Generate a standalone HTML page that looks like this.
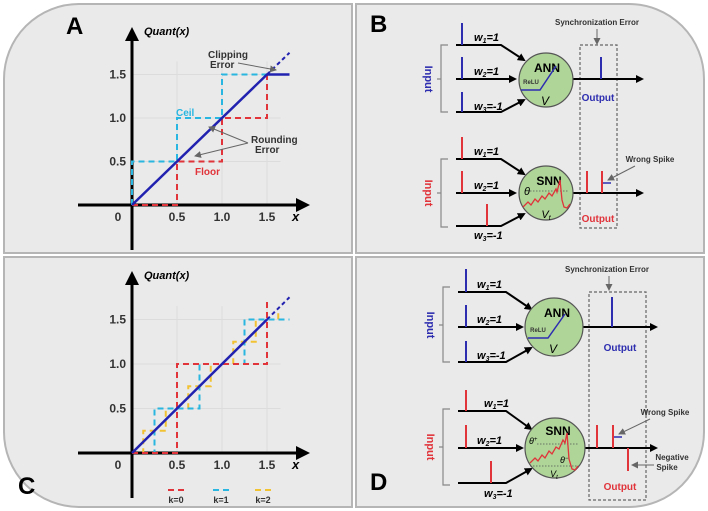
<!DOCTYPE html>
<html><head><meta charset="utf-8"><style>
html,body{margin:0;padding:0;background:#fff}
svg{display:block}
text{font-family:"Liberation Sans",sans-serif}
</style></head><body>
<svg id="fig" width="708" height="511" viewBox="0 0 708 511" xmlns="http://www.w3.org/2000/svg">
<defs>
<marker id="ah" markerWidth="8" markerHeight="8" refX="6" refY="4" orient="auto" markerUnits="userSpaceOnUse"><path d="M0,0 L8,4 L0,8 z" fill="#000"/></marker>
<marker id="ahb" markerWidth="14" markerHeight="14" refX="10" refY="7" orient="auto" markerUnits="userSpaceOnUse"><path d="M0,0 L14,7 L0,14 z" fill="#000"/></marker>
<marker id="ahg" markerWidth="7" markerHeight="7" refX="6" refY="3.5" orient="auto" markerUnits="userSpaceOnUse"><path d="M0,0 L7,3.5 L0,7 z" fill="#666"/></marker>
</defs>
<path d="M4,79 A75,75 0 0 1 79,4 L352,4 L352,253 L4,253 Z" fill="#eaeaea" stroke="#b5b5b5" stroke-width="2"/>
<path d="M356,4 L629,4 A75,75 0 0 1 704,79 L704,253 L356,253 Z" fill="#eaeaea" stroke="#b5b5b5" stroke-width="2"/>
<path d="M4,257 L352,257 L352,507 L79,507 A75,75 0 0 1 4,432 Z" fill="#eaeaea" stroke="#b5b5b5" stroke-width="2"/>
<path d="M356,257 L704,257 L704,432 A75,75 0 0 1 629,507 L356,507 Z" fill="#eaeaea" stroke="#b5b5b5" stroke-width="2"/>

<text x="66" y="34" font-size="24" font-weight="bold">A</text>
<text x="370" y="32" font-size="24" font-weight="bold">B</text>
<text x="18" y="494" font-size="24" font-weight="bold">C</text>
<text x="370" y="490" font-size="24" font-weight="bold">D</text>

<g id="chartA"></g>
<g id="chartC"></g>

<g font-weight="bold">
<text x="208" y="58" font-size="10" fill="#333">Clipping</text>
<text x="210" y="68" font-size="10" fill="#333">Error</text>
<line x1="238" y1="63" x2="276" y2="70" stroke="#666" stroke-width="1" marker-end="url(#ahg)"/>
<text x="176" y="116" font-size="10" fill="#29b6e0">Ceil</text>
<text x="195" y="175" font-size="10" fill="#e0333a">Floor</text>
<text x="251" y="143" font-size="10" fill="#333">Rounding</text>
<text x="255" y="153" font-size="10" fill="#333">Error</text>
<line x1="248" y1="143" x2="209" y2="127" stroke="#666" stroke-width="1" marker-end="url(#ahg)"/>
<line x1="248" y1="143" x2="195" y2="156" stroke="#666" stroke-width="1" marker-end="url(#ahg)"/>
</g>

<g>
<text x="597" y="25" font-size="8" font-weight="bold" text-anchor="middle" fill="#333">Synchronization Error</text>
<line x1="597" y1="29" x2="597" y2="44" stroke="#666" stroke-width="1" marker-end="url(#ahg)"/>
<rect x="580" y="45" width="37" height="183" fill="none" stroke="#666" stroke-width="1.2" stroke-dasharray="3,2"/>
<path d="M448,45 L441,45 L441,112 L448,112 M441,79 L437,79" fill="none" stroke="#888" stroke-width="1.2"/>
<text transform="translate(425,79) rotate(90)" font-size="11" font-weight="bold" fill="#2d2db0" text-anchor="middle">Input</text>
<g stroke="#000" stroke-width="2" fill="none">
<path d="M456,45 L501,45 L524,60" marker-end="url(#ah)"/>
<path d="M456,79 L515,79" marker-end="url(#ah)"/>
<path d="M456,112 L501,112 L524,100" marker-end="url(#ah)"/>
<path d="M573,79 L642,79" marker-end="url(#ah)"/>
</g>
<g stroke="#2d2db0" stroke-width="2">
<line x1="462" y1="45" x2="462" y2="23"/>
<line x1="462" y1="79" x2="462" y2="57"/>
<line x1="462" y1="112" x2="462" y2="92"/>
<line x1="601" y1="79" x2="601" y2="57"/>
</g>
<g font-size="11" font-weight="bold" font-style="italic" font-family="Liberation Serif">
<text x="474" y="41">w<tspan font-size="7" dy="2">1</tspan><tspan dy="-2">=1</tspan></text>
<text x="474" y="75">w<tspan font-size="7" dy="2">2</tspan><tspan dy="-2">=1</tspan></text>
<text x="474" y="110">w<tspan font-size="7" dy="2">3</tspan><tspan dy="-2">=-1</tspan></text>
</g>
<circle cx="546" cy="80" r="27" fill="#afd598" stroke="#555" stroke-width="1.2"/>
<text x="547" y="72" font-size="12" font-weight="bold" text-anchor="middle">ANN</text>
<text x="531" y="84" font-size="6" font-weight="bold" text-anchor="middle" fill="#333">ReLU</text>
<path d="M521,90 L540,90 L556,66" fill="none" stroke="#2d2db0" stroke-width="1.5"/>
<text x="545" y="105" font-size="12" font-style="italic" font-family="Liberation Serif" text-anchor="middle">V</text>
<text x="598" y="101" font-size="10" font-weight="bold" fill="#2d2db0" text-anchor="middle">Output</text>

<path d="M448,159 L441,159 L441,227 L448,227 M441,193 L437,193" fill="none" stroke="#888" stroke-width="1.2"/>
<text transform="translate(425,193) rotate(90)" font-size="11" font-weight="bold" fill="#e0333a" text-anchor="middle">Input</text>
<g stroke="#000" stroke-width="2" fill="none">
<path d="M456,159 L501,159 L524,174" marker-end="url(#ah)"/>
<path d="M456,193 L515,193" marker-end="url(#ah)"/>
<path d="M456,226 L501,226 L524,214" marker-end="url(#ah)"/>
<path d="M573,193 L642,193" marker-end="url(#ah)"/>
</g>
<g stroke="#e0333a" stroke-width="2">
<line x1="462" y1="159" x2="462" y2="137"/>
<line x1="462" y1="193" x2="462" y2="171"/>
<line x1="487" y1="226" x2="487" y2="204"/>
<line x1="587" y1="193" x2="587" y2="171"/>
<line x1="602" y1="193" x2="602" y2="171"/>
</g>
<line x1="603" y1="183" x2="611" y2="183" stroke="#2d2db0" stroke-width="1.5"/>
<text x="650" y="162" font-size="8" font-weight="bold" text-anchor="middle" fill="#333">Wrong Spike</text>
<line x1="635" y1="166" x2="608" y2="180" stroke="#666" stroke-width="1" marker-end="url(#ahg)"/>
<g font-size="11" font-weight="bold" font-style="italic" font-family="Liberation Serif">
<text x="474" y="155">w<tspan font-size="7" dy="2">1</tspan><tspan dy="-2">=1</tspan></text>
<text x="474" y="189">w<tspan font-size="7" dy="2">2</tspan><tspan dy="-2">=1</tspan></text>
<text x="474" y="239">w<tspan font-size="7" dy="2">3</tspan><tspan dy="-2">=-1</tspan></text>
</g>
<circle cx="546" cy="193" r="27" fill="#afd598" stroke="#555" stroke-width="1.2"/>
<text x="549" y="185" font-size="12" font-weight="bold" text-anchor="middle">SNN</text>
<text x="524" y="195" font-size="11" font-style="italic" font-family="Liberation Serif">θ</text>
<line x1="530" y1="191" x2="568" y2="191" stroke="#555" stroke-width="0.8" stroke-dasharray="1.5,1.5"/>
<path d="M523,207 L528,202 L531,205 L535,199 L538,202 L542,196 L545,199 L549,193 L552,196 L556,189 L557,192 L560,180 L562,200 L564,207 L567,208 L570,204" fill="none" stroke="#e0333a" stroke-width="1.3"/>
<text x="546" y="218" font-size="11" font-style="italic" font-family="Liberation Serif" text-anchor="middle">V<tspan font-size="7" dy="2">t</tspan></text>
<text x="598" y="222" font-size="10" font-weight="bold" fill="#e0333a" text-anchor="middle">Output</text>
</g>

<g>
<text x="607" y="272" font-size="8" font-weight="bold" text-anchor="middle" fill="#333">Synchronization Error</text>
<line x1="609" y1="276" x2="609" y2="290" stroke="#666" stroke-width="1" marker-end="url(#ahg)"/>
<rect x="589" y="292" width="57" height="208" fill="none" stroke="#666" stroke-width="1.2" stroke-dasharray="3,2"/>
<path d="M450,287 L443,287 L443,362 L450,362 M443,325 L439,325" fill="none" stroke="#888" stroke-width="1.2"/>
<text transform="translate(427,325) rotate(90)" font-size="11" font-weight="bold" fill="#2d2db0" text-anchor="middle">Input</text>
<g stroke="#000" stroke-width="2" fill="none">
<path d="M458,292 L506,292 L531,309" marker-end="url(#ah)"/>
<path d="M458,327 L522,327" marker-end="url(#ah)"/>
<path d="M458,362 L506,362 L531,348" marker-end="url(#ah)"/>
<path d="M583,327 L656,327" marker-end="url(#ah)"/>
</g>
<g stroke="#2d2db0" stroke-width="2">
<line x1="466" y1="292" x2="466" y2="269"/>
<line x1="466" y1="327" x2="466" y2="305"/>
<line x1="466" y1="362" x2="466" y2="341"/>
<line x1="612" y1="327" x2="612" y2="297"/>
</g>
<g font-size="11" font-weight="bold" font-style="italic" font-family="Liberation Serif">
<text x="477" y="288">w<tspan font-size="7" dy="2">1</tspan><tspan dy="-2">=1</tspan></text>
<text x="477" y="323">w<tspan font-size="7" dy="2">2</tspan><tspan dy="-2">=1</tspan></text>
<text x="477" y="359">w<tspan font-size="7" dy="2">3</tspan><tspan dy="-2">=-1</tspan></text>
</g>
<circle cx="554" cy="327" r="29" fill="#afd598" stroke="#555" stroke-width="1.2"/>
<text x="557" y="317" font-size="12" font-weight="bold" text-anchor="middle">ANN</text>
<text x="538" y="332" font-size="6" font-weight="bold" text-anchor="middle" fill="#333">ReLU</text>
<path d="M528,338 L548,338 L565,314" fill="none" stroke="#2d2db0" stroke-width="1.5"/>
<text x="553" y="353" font-size="12" font-style="italic" font-family="Liberation Serif" text-anchor="middle">V</text>
<text x="620" y="351" font-size="10" font-weight="bold" fill="#2d2db0" text-anchor="middle">Output</text>

<path d="M450,409 L443,409 L443,485 L450,485 M443,447 L439,447" fill="none" stroke="#888" stroke-width="1.2"/>
<text transform="translate(427,447) rotate(90)" font-size="11" font-weight="bold" fill="#e0333a" text-anchor="middle">Input</text>
<g stroke="#000" stroke-width="2" fill="none">
<path d="M458,411 L506,411 L531,429" marker-end="url(#ah)"/>
<path d="M458,448 L522,448" marker-end="url(#ah)"/>
<path d="M458,483 L506,483 L531,469" marker-end="url(#ah)"/>
<path d="M583,448 L656,448" marker-end="url(#ah)"/>
</g>
<g stroke="#e0333a" stroke-width="2">
<line x1="466" y1="411" x2="466" y2="390"/>
<line x1="466" y1="448" x2="466" y2="425"/>
<line x1="491" y1="483" x2="491" y2="461"/>
<line x1="597" y1="448" x2="597" y2="425"/>
<line x1="613" y1="448" x2="613" y2="425"/>
<line x1="628" y1="448" x2="628" y2="471"/>
</g>
<line x1="614" y1="437" x2="622" y2="437" stroke="#2d2db0" stroke-width="1.5"/>
<text x="665" y="415" font-size="8" font-weight="bold" text-anchor="middle" fill="#333">Wrong Spike</text>
<line x1="650" y1="419" x2="619" y2="434" stroke="#666" stroke-width="1" marker-end="url(#ahg)"/>
<text x="672" y="460" font-size="8" font-weight="bold" text-anchor="middle" fill="#333">Negative</text>
<text x="667" y="470" font-size="8" font-weight="bold" text-anchor="middle" fill="#333">Spike</text>
<line x1="654" y1="465" x2="632" y2="465" stroke="#666" stroke-width="1" marker-end="url(#ahg)"/>
<g font-size="11" font-weight="bold" font-style="italic" font-family="Liberation Serif">
<text x="484" y="407">w<tspan font-size="7" dy="2">1</tspan><tspan dy="-2">=1</tspan></text>
<text x="477" y="444">w<tspan font-size="7" dy="2">2</tspan><tspan dy="-2">=1</tspan></text>
<text x="484" y="497">w<tspan font-size="7" dy="2">3</tspan><tspan dy="-2">=-1</tspan></text>
</g>
<circle cx="555" cy="448" r="30" fill="#afd598" stroke="#555" stroke-width="1.2"/>
<text x="558" y="435" font-size="12" font-weight="bold" text-anchor="middle">SNN</text>
<text x="529" y="444" font-size="9" font-style="italic" font-family="Liberation Serif">θ<tspan font-size="6" dy="-3">+</tspan></text>
<line x1="537" y1="444" x2="578" y2="444" stroke="#555" stroke-width="0.8" stroke-dasharray="1.5,1.5"/>
<text x="560" y="463" font-size="9" font-style="italic" font-family="Liberation Serif">θ<tspan font-size="6" dy="-3">−</tspan></text>
<line x1="530" y1="466" x2="580" y2="466" stroke="#555" stroke-width="0.8" stroke-dasharray="1.5,1.5"/>
<path d="M530,463 L535,458 L538,461 L542,455 L545,458 L549,451 L552,454 L556,447 L559,449 L563,440 L565,443 L567,433 L569,459 L572,469 L575,470 L578,466" fill="none" stroke="#e0333a" stroke-width="1.3"/>
<text x="554" y="477" font-size="9" font-style="italic" font-family="Liberation Serif" text-anchor="middle">V<tspan font-size="6" dy="2">t</tspan></text>
<text x="620" y="490" font-size="10" font-weight="bold" fill="#e0333a" text-anchor="middle">Output</text>
</g>
</svg>
<script>
const tickValues = [0.5, 1.0, 1.5];
const tickLabels = ["0.5", "1.0", "1.5"];
const stepEdgesA = [0, 0.5, 1.0, 1.5];
const floorLevelsA = [0, 0.5, 1.0];
const ceilLevelsA = [0.5, 1.0, 1.5];
const clipValueA = 1.5;
const identityEndA = 1.75;
const edgesK0 = [0, 0.5, 1.5];
const levelsK0 = [0, 1.0];
const edgesK1 = [0, 0.25, 0.75, 1.25, 1.75];
const levelsK1 = [0, 0.5, 1.0, 1.5];
const edgesK2 = [0.125, 0.375, 0.625, 0.875, 1.125, 1.375, 1.625];
const levelsK2 = [0.25, 0.5, 0.75, 1.0, 1.25, 1.5];
const legendLabels = ["k=0", "k=1", "k=2"];

const NS = "http://www.w3.org/2000/svg";
function mk(parent, tag, attrs) {
  const e = document.createElementNS(NS, tag);
  for (const k in attrs) e.setAttribute(k, attrs[k]);
  parent.appendChild(e);
  return e;
}

function drawAxes(g, ox, oy, ux, uy, topY, prefix) {
  const sx = v => ox + v * ux, sy = v => oy - v * uy;
  tickValues.forEach((v, i) => {
    const gl = mk(g, "line", {x1: ox, y1: sy(v), x2: sx(1.65), y2: sy(v), stroke: "#dcdcdc", "stroke-width": 1});
    
    
    const gv = mk(g, "line", {x1: sx(v), y1: oy, x2: sx(v), y2: sy(1.65), stroke: "#dcdcdc", "stroke-width": 1});
    
    
  });
  const xa = mk(g, "line", {x1: 78, y1: oy, x2: 306, y2: oy, stroke: "#000", "stroke-width": 3, "marker-end": "url(#ahb)"});
  
  
  const ya = mk(g, "line", {x1: ox, y1: oy + 45, x2: ox, y2: topY + 10, stroke: "#000", "stroke-width": 3, "marker-end": "url(#ahb)"});
  
  
  tickValues.forEach((v, i) => {
    const tx = mk(g, "text", {x: sx(v), y: oy + 16, "font-size": 12, "font-weight": "bold", "text-anchor": "middle", fill: "#333"});
    tx.textContent = tickLabels[i];
    
    
    const ty = mk(g, "text", {x: ox - 6, y: sy(v) + 4, "font-size": 12, "font-weight": "bold", "text-anchor": "end", fill: "#333"});
    ty.textContent = tickLabels[i];
    
    
  });
  const z = mk(g, "text", {x: ox - 14, y: oy + 16, "font-size": 12, "font-weight": "bold", "text-anchor": "middle", fill: "#333"});
  z.textContent = "0";
  
  
  const xl = mk(g, "text", {x: 292, y: oy + 16, "font-size": 13, "font-weight": "bold", "font-style": "italic"});
  xl.textContent = "x";
  
  
  const yl = mk(g, "text", {x: ox + 12, y: topY + 14, "font-size": 11, "font-weight": "bold", "font-style": "italic"});
  yl.textContent = "Quant(x)";
  
  
  return [sx, sy];
}

function stepPath(sx, sy, edges, levels, startLevel, endLevel) {
  let d = "M" + sx(edges[0]) + "," + sy(startLevel);
  for (let i = 0; i < levels.length; i++) {
    d += " L" + sx(edges[i]) + "," + sy(levels[i]) + " L" + sx(edges[i + 1]) + "," + sy(levels[i]);
  }
  if (endLevel !== null) d += " L" + sx(edges[edges.length - 1]) + "," + sy(endLevel);
  return d;
}

(function () {
  const g = document.getElementById("chartA");
  const [sx, sy] = drawAxes(g, 132, 205, 90, 87, 21, "chart-a");
  const fl = mk(g, "path", {d: stepPath(sx, sy, stepEdgesA, floorLevelsA, 0, clipValueA), fill: "none", stroke: "#e0333a", "stroke-width": 2, "stroke-dasharray": "6,4"});
  
  
  const cl = mk(g, "path", {d: stepPath(sx, sy, stepEdgesA, ceilLevelsA, 0, null), fill: "none", stroke: "#29b6e0", "stroke-width": 2, "stroke-dasharray": "6,4"});
  
  
  const id = mk(g, "path", {d: "M" + sx(0) + "," + sy(0) + " L" + sx(clipValueA) + "," + sy(clipValueA) + " L" + sx(identityEndA) + "," + sy(clipValueA), fill: "none", stroke: "#2222b0", "stroke-width": 2.5});
  
  
  const dl = mk(g, "line", {x1: sx(clipValueA), y1: sy(clipValueA), x2: sx(identityEndA), y2: sy(identityEndA), stroke: "#2222b0", "stroke-width": 2, "stroke-dasharray": "4,3"});
  
  
})();

(function () {
  const g = document.getElementById("chartC");
  const [sx, sy] = drawAxes(g, 132, 453, 90, 89, 265, "chart-c");
  const series = [
    [edgesK2, levelsK2, "#f1c232", 1.6, "k2-series"],
    [edgesK1, levelsK1, "#29b6e0", null, "k1-series"],
    [edgesK0, levelsK0, "#e0333a", 1.7, "k0-series"]
  ];
  series.forEach(s => {
    let d = stepPath(sx, sy, s[0], s[1], 0, s[3]);
    if (s[4] === "k2-series") d = "M" + sx(0) + "," + sy(0) + " L" + sx(s[0][0]) + "," + sy(0) + d.replace(/^M/, " L");
    const p = mk(g, "path", {d: d, fill: "none", stroke: s[2], "stroke-width": 2, "stroke-dasharray": "6,4"});
    
    
  });
  const id = mk(g, "line", {x1: sx(0), y1: sy(0), x2: sx(1.5), y2: sy(1.5), stroke: "#2222b0", "stroke-width": 2.5});
  
  
  const dl = mk(g, "line", {x1: sx(1.5), y1: sy(1.5), x2: sx(1.75), y2: sy(1.75), stroke: "#2222b0", "stroke-width": 2, "stroke-dasharray": "4,3"});
  
  
  const cols = ["#e0333a", "#29b6e0", "#f1c232"];
  const lx = [176, 221, 263];
  legendLabels.forEach((lab, i) => {
    const ln = mk(g, "line", {x1: lx[i] - 8, y1: 490, x2: lx[i] + 8, y2: 490, stroke: cols[i], "stroke-width": 2, "stroke-dasharray": "6,4"});
    
    
    const t = mk(g, "text", {x: lx[i], y: 503, "font-size": 9, "font-weight": "bold", "text-anchor": "middle", fill: "#333"});
    t.textContent = lab;
    
    
  });
})();
</script>
</body></html>
